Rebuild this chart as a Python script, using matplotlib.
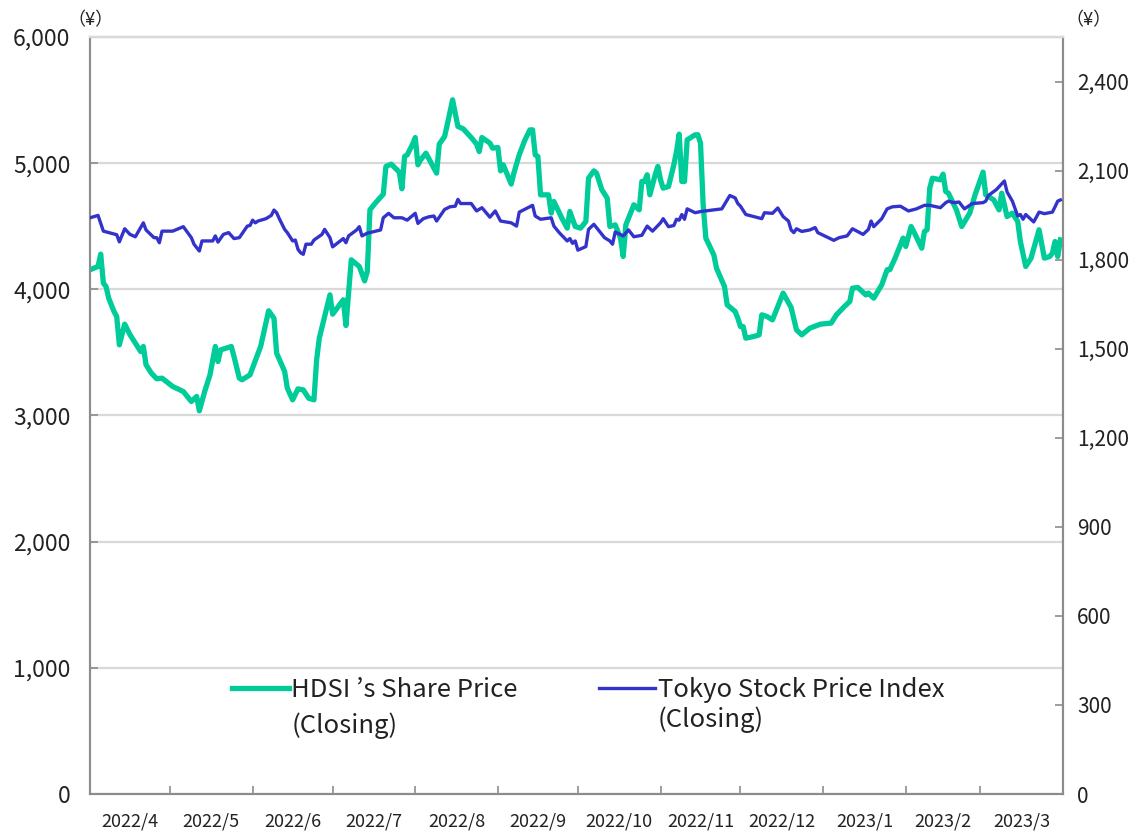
import matplotlib
matplotlib.use("Agg")
import matplotlib.pyplot as plt
from matplotlib.ticker import FuncFormatter
import pandas as pd

plt.rcParams['font.family'] = ['Noto Sans CJK JP', 'DejaVu Sans']

green = "#00CC99"
blue = "#3333CC"
grid_c = "#D9D9D9"
spine_c = "#8C8C8C"
text_c = "#222222"

# HDSI closing price (left axis, yen)
hdsi_dates = [
    '2022-04-01', '2022-04-04', '2022-04-05', '2022-04-06', '2022-04-07', '2022-04-08', '2022-04-10',
    '2022-04-11', '2022-04-12', '2022-04-14', '2022-04-16', '2022-04-18', '2022-04-20', '2022-04-21',
    '2022-04-22', '2022-04-24', '2022-04-26', '2022-04-28', '2022-05-02', '2022-05-06', '2022-05-09',
    '2022-05-11', '2022-05-12', '2022-05-14', '2022-05-16', '2022-05-18', '2022-05-19', '2022-05-20',
    '2022-05-24', '2022-05-25', '2022-05-27', '2022-05-28', '2022-05-31', '2022-06-04', '2022-06-07',
    '2022-06-09', '2022-06-10', '2022-06-13', '2022-06-14', '2022-06-16', '2022-06-18', '2022-06-20',
    '2022-06-22', '2022-06-24', '2022-06-25', '2022-06-26', '2022-06-30', '2022-07-01', '2022-07-05',
    '2022-07-06', '2022-07-08', '2022-07-11', '2022-07-13', '2022-07-14', '2022-07-15', '2022-07-17',
    '2022-07-20', '2022-07-21', '2022-07-23', '2022-07-26', '2022-07-27', '2022-07-28', '2022-07-29',
    '2022-07-31', '2022-08-01', '2022-08-02', '2022-08-03', '2022-08-05', '2022-08-07', '2022-08-09',
    '2022-08-10', '2022-08-12', '2022-08-13', '2022-08-15', '2022-08-17', '2022-08-19', '2022-08-22',
    '2022-08-24', '2022-08-25', '2022-08-26', '2022-08-29', '2022-08-30', '2022-09-01', '2022-09-02',
    '2022-09-03', '2022-09-06', '2022-09-07', '2022-09-09', '2022-09-11', '2022-09-13', '2022-09-14',
    '2022-09-15', '2022-09-16', '2022-09-17', '2022-09-20', '2022-09-21', '2022-09-22', '2022-09-25',
    '2022-09-27', '2022-09-28', '2022-09-30', '2022-10-02', '2022-10-04', '2022-10-05', '2022-10-07',
    '2022-10-08', '2022-10-10', '2022-10-12', '2022-10-13', '2022-10-15', '2022-10-17', '2022-10-18',
    '2022-10-19', '2022-10-22', '2022-10-24', '2022-10-25', '2022-10-26', '2022-10-27', '2022-10-28',
    '2022-10-30', '2022-10-31', '2022-11-01', '2022-11-02', '2022-11-04', '2022-11-06', '2022-11-07',
    '2022-11-08', '2022-11-09', '2022-11-10', '2022-11-11', '2022-11-14', '2022-11-15', '2022-11-16',
    '2022-11-17', '2022-11-18', '2022-11-21', '2022-11-22', '2022-11-25', '2022-11-26', '2022-11-29',
    '2022-11-30', '2022-12-01', '2022-12-02', '2022-12-03', '2022-12-06', '2022-12-08', '2022-12-09',
    '2022-12-11', '2022-12-13', '2022-12-15', '2022-12-17', '2022-12-20', '2022-12-22', '2022-12-24',
    '2022-12-27', '2022-12-31', '2023-01-04', '2023-01-06', '2023-01-09', '2023-01-11', '2023-01-12',
    '2023-01-14', '2023-01-17', '2023-01-18', '2023-01-20', '2023-01-23', '2023-01-25', '2023-01-26',
    '2023-01-28', '2023-01-31', '2023-02-01', '2023-02-03', '2023-02-04', '2023-02-07', '2023-02-08',
    '2023-02-09', '2023-02-10', '2023-02-11', '2023-02-14', '2023-02-15', '2023-02-16', '2023-02-17',
    '2023-02-20', '2023-02-22', '2023-02-25', '2023-02-27', '2023-03-02', '2023-03-03', '2023-03-06',
    '2023-03-08', '2023-03-09', '2023-03-11', '2023-03-13', '2023-03-15', '2023-03-16', '2023-03-18',
    '2023-03-20', '2023-03-23', '2023-03-25', '2023-03-27', '2023-03-28', '2023-03-29', '2023-03-30',
    '2023-03-31',
]
hdsi_close = [
    4155, 4181, 4279, 4049, 4022, 3930, 3824,
    3785, 3560, 3724, 3640, 3573, 3507, 3547,
    3402, 3336, 3291, 3296, 3230, 3190, 3111,
    3151, 3037, 3190, 3322, 3547, 3428, 3520,
    3547, 3468, 3296, 3283, 3322, 3547, 3830,
    3771, 3494, 3349, 3217, 3124, 3211, 3203,
    3137, 3124, 3441, 3613, 3956, 3803, 3917,
    3713, 4234, 4181, 4067, 4141, 4630, 4683,
    4754, 4974, 4992, 4929, 4797, 5053, 5066,
    5151, 5203, 4987, 5026, 5079, 5000, 4921,
    5151, 5211, 5304, 5502, 5291, 5272, 5203,
    5151, 5092, 5203, 5159, 5119, 5124, 4939,
    4987, 4834, 4921, 5066, 5177, 5264, 5264,
    5066, 5053, 4749, 4749, 4604, 4696, 4564,
    4485, 4617, 4498, 4485, 4538, 4881, 4939,
    4921, 4789, 4723, 4498, 4511, 4406, 4260,
    4511, 4670, 4630, 4855, 4855, 4908, 4749,
    4908, 4974, 4868, 4802, 4815, 4987, 5092,
    5230, 4855, 4855, 5185, 5225, 5225, 5159,
    4670, 4406, 4273, 4168, 4022, 3877, 3824,
    3771, 3705, 3705, 3613, 3626, 3639, 3798,
    3784, 3758, 3864, 3970, 3856, 3679, 3639,
    3692, 3724, 3732, 3798, 3864, 3904, 4009,
    4015, 3956, 3970, 3930, 4036, 4155, 4155,
    4247, 4406, 4340, 4498, 4458, 4326, 4458,
    4472, 4802, 4881, 4868, 4913, 4775, 4762,
    4630, 4498, 4604, 4749, 4929, 4749, 4709,
    4630, 4762, 4577, 4604, 4538, 4379, 4181,
    4247, 4472, 4247, 4260, 4287, 4379, 4260,
    4392,
]

# Tokyo Stock Price Index closing (right axis)
topix_dates = [
    '2022-04-01', '2022-04-04', '2022-04-06', '2022-04-09', '2022-04-11', '2022-04-12', '2022-04-14',
    '2022-04-16', '2022-04-18', '2022-04-21', '2022-04-22', '2022-04-25', '2022-04-26', '2022-04-27',
    '2022-04-28', '2022-05-02', '2022-05-06', '2022-05-09', '2022-05-10', '2022-05-12', '2022-05-13',
    '2022-05-17', '2022-05-18', '2022-05-19', '2022-05-21', '2022-05-23', '2022-05-25', '2022-05-27',
    '2022-05-30', '2022-05-31', '2022-06-01', '2022-06-02', '2022-06-03', '2022-06-06', '2022-06-08',
    '2022-06-09', '2022-06-10', '2022-06-11', '2022-06-13', '2022-06-14', '2022-06-16', '2022-06-17',
    '2022-06-18', '2022-06-19', '2022-06-20', '2022-06-21', '2022-06-23', '2022-06-24', '2022-06-27',
    '2022-06-28', '2022-06-30', '2022-07-01', '2022-07-03', '2022-07-05', '2022-07-06', '2022-07-07',
    '2022-07-10', '2022-07-11', '2022-07-12', '2022-07-14', '2022-07-19', '2022-07-20', '2022-07-22',
    '2022-07-24', '2022-07-27', '2022-07-29', '2022-07-30', '2022-08-01', '2022-08-02', '2022-08-04',
    '2022-08-06', '2022-08-08', '2022-08-09', '2022-08-12', '2022-08-14', '2022-08-16', '2022-08-17',
    '2022-08-18', '2022-08-22', '2022-08-24', '2022-08-26', '2022-08-29', '2022-08-31', '2022-09-02',
    '2022-09-06', '2022-09-08', '2022-09-09', '2022-09-14', '2022-09-15', '2022-09-17', '2022-09-21',
    '2022-09-22', '2022-09-24', '2022-09-27', '2022-09-28', '2022-09-29', '2022-09-30', '2022-10-01',
    '2022-10-04', '2022-10-05', '2022-10-07', '2022-10-11', '2022-10-13', '2022-10-14', '2022-10-15',
    '2022-10-18', '2022-10-20', '2022-10-22', '2022-10-25', '2022-10-27', '2022-10-29', '2022-11-01',
    '2022-11-02', '2022-11-04', '2022-11-06', '2022-11-07', '2022-11-08', '2022-11-09', '2022-11-10',
    '2022-11-11', '2022-11-14', '2022-11-16', '2022-11-24', '2022-11-27', '2022-11-29', '2022-11-30',
    '2022-12-01', '2022-12-03', '2022-12-06', '2022-12-09', '2022-12-10', '2022-12-13', '2022-12-15',
    '2022-12-17', '2022-12-19', '2022-12-20', '2022-12-21', '2022-12-22', '2022-12-24', '2022-12-27',
    '2022-12-29', '2022-12-30', '2023-01-05', '2023-01-07', '2023-01-10', '2023-01-12', '2023-01-16',
    '2023-01-18', '2023-01-19', '2023-01-20', '2023-01-23', '2023-01-25', '2023-01-27', '2023-01-30',
    '2023-02-02', '2023-02-05', '2023-02-08', '2023-02-10', '2023-02-14', '2023-02-16', '2023-02-17',
    '2023-02-19', '2023-02-21', '2023-02-23', '2023-02-26', '2023-03-02', '2023-03-03', '2023-03-04',
    '2023-03-07', '2023-03-10', '2023-03-11', '2023-03-13', '2023-03-15', '2023-03-16', '2023-03-17',
    '2023-03-18', '2023-03-21', '2023-03-23', '2023-03-25', '2023-03-28', '2023-03-29', '2023-03-30',
    '2023-03-31',
]
topix_close = [
    1941, 1949, 1896, 1889, 1884, 1860, 1904,
    1885, 1877, 1924, 1900, 1874, 1874, 1857,
    1896, 1896, 1911, 1874, 1852, 1829, 1863,
    1863, 1880, 1859, 1885, 1891, 1871, 1874,
    1913, 1915, 1933, 1924, 1930, 1938, 1949,
    1967, 1958, 1938, 1902, 1891, 1863, 1866,
    1835, 1823, 1818, 1852, 1852, 1866, 1885,
    1902, 1874, 1843, 1857, 1871, 1857, 1880,
    1900, 1911, 1880, 1889, 1900, 1941, 1956,
    1941, 1941, 1933, 1941, 1956, 1922, 1938,
    1944, 1947, 1930, 1969, 1978, 1980, 2003,
    1989, 1989, 1964, 1975, 1943, 1964, 1930,
    1924, 1913, 1960, 1983, 1947, 1936, 1941,
    1913, 1891, 1863, 1871, 1855, 1863, 1832,
    1844, 1902, 1919, 1874, 1863, 1852, 1893,
    1880, 1900, 1877, 1882, 1913, 1896, 1924,
    1938, 1911, 1915, 1936, 1933, 1952, 1936,
    1971, 1958, 1962, 1971, 2016, 2008, 1989,
    1980, 1952, 1945, 1938, 1958, 1956, 1974,
    1945, 1930, 1900, 1891, 1904, 1895, 1900,
    1908, 1891, 1865, 1874, 1880, 1904, 1885,
    1902, 1930, 1911, 1938, 1971, 1978, 1980,
    1964, 1971, 1983, 1983, 1975, 1992, 1997,
    1992, 1994, 1971, 1989, 1992, 1997, 2016,
    2036, 2065, 2028, 1997, 1947, 1952, 1936,
    1952, 1927, 1960, 1955, 1960, 1978, 1997,
    2001,
]

month_labels = ['2022/4', '2022/5', '2022/6', '2022/7', '2022/8', '2022/9',
                '2022/10', '2022/11', '2022/12', '2023/1', '2023/2', '2023/3']
left_ticks = [0, 1000, 2000, 3000, 4000, 5000, 6000]
right_ticks = [0, 300, 600, 900, 1200, 1500, 1800, 2100, 2400]
legend_first = ['HDSI ’s Share Price', 'Tokyo Stock Price Index']
legend_second = ['(Closing)', '(Closing)']

hdsi = pd.Series(hdsi_close, index=pd.to_datetime(hdsi_dates))
topix = pd.Series(topix_close, index=pd.to_datetime(topix_dates))

fig = plt.figure(figsize=(11.47, 8.35), dpi=100)
ax = fig.add_axes([0.0785, 0.0491, 0.8483, 0.9066])
ax2 = ax.twinx()

l1, = ax.plot(hdsi.index, hdsi.values, color=green, lw=3.8, solid_joinstyle='round', zorder=3)
l2, = ax2.plot(topix.index, topix.values, color=blue, lw=2.4, solid_joinstyle='round', zorder=3)

# x axis: ticks at month starts, labels in the middle of each month
month_starts = pd.date_range('2022-04-01', '2023-04-01', freq='MS')
mids = month_starts[:-1] + (month_starts[1:] - month_starts[:-1]) / 2
ax.set_xlim(month_starts[0], month_starts[-1])
ax.set_xticks(month_starts)
ax.set_xticks(mids, labels=month_labels, minor=True)
ax.tick_params(axis='x', which='major', direction='in', length=6, width=1.2,
               color=spine_c, labelbottom=False)
ax.tick_params(axis='x', which='minor', length=0, pad=13, labelsize=13, labelcolor=text_c)

# left axis
ax.set_ylim(0, 6000)
ax.set_yticks(left_ticks)
ax.yaxis.set_major_formatter(FuncFormatter(lambda v, p: f"{int(v):,}"))
ax.tick_params(axis='y', direction='in', length=6, width=1.2, color=spine_c,
               pad=14, labelsize=16.5, labelcolor=text_c)
ax.yaxis.grid(True, color=grid_c, lw=1.6)
ax.set_axisbelow(True)

# right axis
ax2.set_ylim(0, 2550)
ax2.set_yticks(right_ticks)
ax2.yaxis.set_major_formatter(FuncFormatter(lambda v, p: f"{int(v):,}"))
ax2.tick_params(axis='y', direction='in', length=6, width=1.2, color=spine_c,
                pad=10, labelsize=15, labelcolor=text_c)

for a in (ax, ax2):
    for side in ('left', 'right', 'bottom'):
        a.spines[side].set_color(spine_c)
        a.spines[side].set_linewidth(1.5)
    a.spines['top'].set_color(grid_c)
    a.spines['top'].set_linewidth(1.6)

fig.text(91 / 1147, 1 - 20 / 835, '（¥）', ha='center', va='center', fontsize=13, color=text_c)
fig.text(1088 / 1147, 1 - 20 / 835, '（¥）', ha='center', va='center', fontsize=13, color=text_c)

leg = ax2.legend([l1, l2], legend_first,
                 ncol=2, loc='upper left', bbox_to_anchor=(0.146, 0.155), frameon=False,
                 fontsize=18.5, handlelength=2.2, handletextpad=0.1, columnspacing=3.15,
                 borderaxespad=0, borderpad=0)
# second line of each label, hung under the first line (drawn after the legend)
for t, extra, dy in zip(leg.get_texts(), legend_second, [-7, -3]):
    t.set_color(text_c)
    ax2.annotate(extra, xy=(0, 0), xycoords=t, xytext=(0, dy), textcoords='offset points',
                 ha='left', va='top', fontsize=18.5, color=text_c, zorder=10)

plt.savefig("out.png", dpi=100)
